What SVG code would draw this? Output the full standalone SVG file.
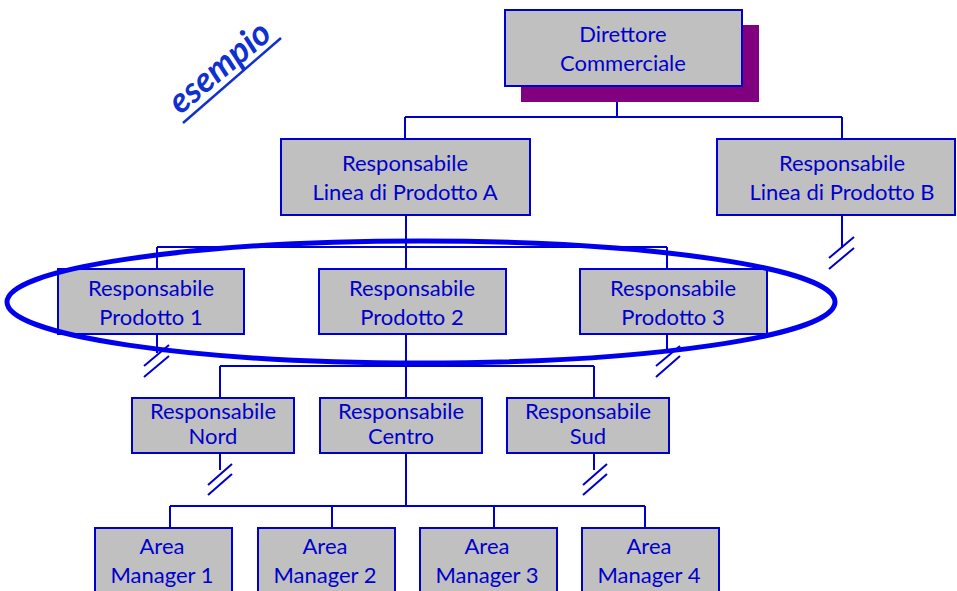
<svg xmlns="http://www.w3.org/2000/svg" width="957" height="591" viewBox="0 0 957 591">
<style>
.box{fill:#C0C0C0;stroke:#0000CC;stroke-width:2}
.t{font-family:Lato,"Liberation Sans",sans-serif;font-size:22px;fill:#0000CC;text-anchor:middle}
.c{stroke:#0000CC;stroke-width:2;fill:none}
</style>
<rect width="957" height="591" fill="#fff"/>
<g id="esempio">
<text x="227" y="76" transform="rotate(-40 227 76)" font-family="Lato,'Liberation Sans',sans-serif" font-size="35" font-weight="bold" font-style="italic" fill="#1030D0" text-anchor="middle">esempio</text>
<line x1="183" y1="123" x2="281" y2="38" stroke="#1030D0" stroke-width="2.5"/>
</g>
<g id="connectors" class="c">
<path d="M617 86V117M405 117H842M405 117V139M842 117V139"/>
<path d="M406 215V247M157 247H667M157 247V269M406 247V269M667 247V269"/>
<path d="M842 215V248M829 258L854 237M829 269L854 248"/>
<path d="M157 334V353M144 366L169 345M144 377L169 356"/>
<path d="M667 334V350M656 366L680 346M656 377L680 356"/>
<path d="M406 334V398M220 366H594M220 366V398M594 366V398"/>
<path d="M220 453V470M208 485L232 464M208 495L232 474"/>
<path d="M594 453V470M583 485L607 464M583 495L607 474"/>
<path d="M406 453V506M170 506H645M170 506V528M332 506V528M494 506V528M645 506V528"/>
</g>
<g id="dir">
<rect x="521" y="25" width="238" height="77" fill="#800080"/>
<rect class="box" x="505" y="10" width="237" height="76"/>
<text class="t" x="623" y="42">Direttore</text>
<text class="t" x="623" y="71">Commerciale</text>
</g>
<g id="lineaA">
<rect class="box" x="281" y="139" width="249" height="76"/>
<text class="t" x="405" y="171">Responsabile</text>
<text class="t" x="405" y="200">Linea di Prodotto A</text>
</g>
<g id="lineaB">
<rect class="box" x="717" y="139" width="238" height="76"/>
<text class="t" x="842" y="171">Responsabile</text>
<text class="t" x="842" y="200">Linea di Prodotto B</text>
</g>
<g id="prod1">
<rect class="box" x="58" y="269" width="186" height="65"/>
<text class="t" x="151" y="296">Responsabile</text>
<text class="t" x="151" y="325">Prodotto 1</text>
</g>
<g id="prod2">
<rect class="box" x="319" y="269" width="187" height="65"/>
<text class="t" x="412" y="296">Responsabile</text>
<text class="t" x="412" y="325">Prodotto 2</text>
</g>
<g id="prod3">
<rect class="box" x="580" y="269" width="187" height="65"/>
<text class="t" x="673" y="296">Responsabile</text>
<text class="t" x="673" y="325">Prodotto 3</text>
</g>
<g id="nord">
<rect class="box" x="132" y="398" width="162" height="55"/>
<text class="t" x="213" y="419">Responsabile</text>
<text class="t" x="213" y="444">Nord</text>
</g>
<g id="centro">
<rect class="box" x="320" y="398" width="162" height="55"/>
<text class="t" x="401" y="419">Responsabile</text>
<text class="t" x="401" y="444">Centro</text>
</g>
<g id="sud">
<rect class="box" x="507" y="398" width="162" height="55"/>
<text class="t" x="588" y="419">Responsabile</text>
<text class="t" x="588" y="444">Sud</text>
</g>
<g id="am1">
<rect class="box" x="95" y="528" width="137" height="75"/>
<text class="t" x="162" y="554">Area</text>
<text class="t" x="162" y="583">Manager 1</text>
</g>
<g id="am2">
<rect class="box" x="258" y="528" width="137" height="75"/>
<text class="t" x="325" y="554">Area</text>
<text class="t" x="325" y="583">Manager 2</text>
</g>
<g id="am3">
<rect class="box" x="420" y="528" width="137" height="75"/>
<text class="t" x="487" y="554">Area</text>
<text class="t" x="487" y="583">Manager 3</text>
</g>
<g id="am4">
<rect class="box" x="582" y="528" width="137" height="75"/>
<text class="t" x="649" y="554">Area</text>
<text class="t" x="649" y="583">Manager 4</text>
</g>
<g id="highlight">
<ellipse cx="421" cy="302" rx="414" ry="61" fill="none" stroke="#0000EE" stroke-width="5"/>
</g>
</svg>
